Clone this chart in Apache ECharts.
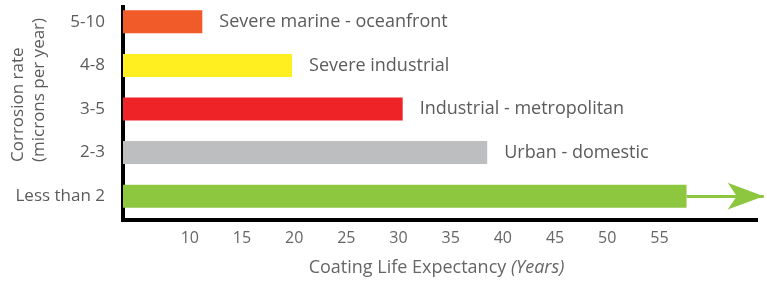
<!DOCTYPE html>
<html>
<head>
<meta charset="utf-8">
<script src="https://cdn.jsdelivr.net/npm/echarts@6/dist/echarts.min.js"></script>
<style>
html, body { margin: 0; padding: 0; background: #fff; }
#main { width: 767px; height: 282px; }
</style>
</head>
<body>
<div id="main"></div>
<script>
// corrosion rate bands, top to bottom
var rates = ['5-10', '4-8', '3-5', '2-3', 'Less than 2'];
var environments = ['Severe marine - oceanfront', 'Severe industrial', 'Industrial - metropolitan', 'Urban - domestic', ''];
var lifeYears = [11.2, 19.8, 30.4, 38.5, 57.6];
var barColors = ['#F15A29', '#FFEF21', '#EE2328', '#BCBEC0', '#8DC63F'];
var xTicks = [10, 15, 20, 25, 30, 35, 40, 45, 50, 55];
var arrowEnd = 65;

var textColor = '#5b5b5b';
var font = 'Open Sans';

var barData = [];
for (var i = 0; i < rates.length; i++) {
	barData.push({
		value: lifeYears[i],
		itemStyle: { color: barColors[i] },
		label: { show: environments[i] !== '' }
	});
}

var axisLineStyle = { color: '#000', width: 4, cap: 'square' };

var myChart = echarts.init(document.getElementById('main'));
var option = {
	animation: false,
	grid: [{
		// bars + arrow (runs a bit past the black axis)
		left: 123,
		right: 2,
		top: -3,
		bottom: 61.5
	}, {
		// black L-shaped frame
		left: 123,
		right: 11,
		top: 7,
		bottom: 62
	}],
	xAxis: [{
		type: 'value',
		gridIndex: 0,
		min: 3.6,
		max: 65.12,
		axisLine: { show: false },
		axisTick: { show: false },
		splitLine: { show: false },
		axisLabel: {
			customValues: xTicks,
			margin: 12,
			color: '#666',
			fontFamily: font,
			fontSize: 16
		},
		name: 'Coating Life Expectancy {i|(Years)}',
		nameLocation: 'middle',
		nameGap: 41,
		nameTextStyle: {
			color: '#666',
			fontFamily: font,
			fontSize: 18,
			padding: [0, 15, 0, 0],
			rich: {
				i: { fontStyle: 'italic', color: '#666', fontFamily: font, fontSize: 18 }
			}
		}
	}, {
		type: 'value',
		gridIndex: 1,
		min: 0,
		max: 1,
		axisLine: { show: true, lineStyle: axisLineStyle },
		axisTick: { show: false },
		axisLabel: { show: false },
		splitLine: { show: false }
	}],
	yAxis: [{
		type: 'category',
		gridIndex: 0,
		inverse: true,
		data: rates,
		axisLine: { show: false },
		axisTick: { show: false },
		axisLabel: {
			margin: 18,
			color: textColor,
			fontFamily: font,
			fontSize: 17
		}
	}, {
		type: 'value',
		gridIndex: 1,
		min: 0,
		max: 1,
		axisLine: { show: true, lineStyle: axisLineStyle },
		axisTick: { show: false },
		axisLabel: { show: false },
		splitLine: { show: false }
	}],
	graphic: [{
		type: 'text',
		x: 29,
		y: 162,
		rotation: Math.PI / 2,
		style: {
			text: 'Corrosion rate\n(microns per year)',
			fill: textColor,
			font: '17px "Open Sans"',
			align: 'left',
			verticalAlign: 'middle',
			lineHeight: 21
		}
	}],
	series: [{
		type: 'bar',
		xAxisIndex: 0,
		yAxisIndex: 0,
		barWidth: 23,
		data: barData,
		label: {
			position: 'right',
			distance: 17,
			color: textColor,
			fontFamily: font,
			fontSize: 18,
			formatter: function(p) {
				return environments[p.dataIndex];
			}
		},
		emphasis: { disabled: true },
		markLine: {
			silent: true,
			symbol: ['none', 'arrow'],
			symbolSize: [20, 36],
			label: { show: false },
			lineStyle: { color: barColors[4], width: 3, type: 'solid' },
			data: [[
				{ coord: [lifeYears[4], rates[4]] },
				{ coord: [arrowEnd, rates[4]] }
			]]
		}
	}]
};
myChart.setOption(option);
</script>
</body>
</html>
